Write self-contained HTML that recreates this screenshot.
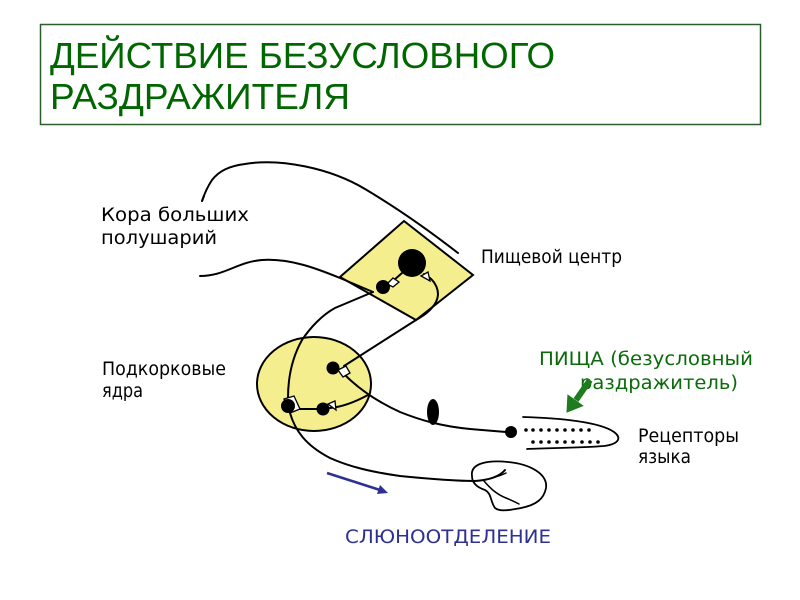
<!DOCTYPE html>
<html><head><meta charset="utf-8"><style>
html,body{margin:0;padding:0;background:#fff;}
svg{display:block;}
.lbl{font-family:"DejaVu Sans","Liberation Sans",sans-serif;font-size:18.5px;fill:#000;}
.ttl{font-family:"Liberation Sans","DejaVu Sans",sans-serif;font-size:36px;fill:#006600;}
</style></head><body>
<svg width="800" height="600" viewBox="0 0 800 600" xmlns="http://www.w3.org/2000/svg">
<rect x="0" y="0" width="800" height="600" fill="#fff"/>
<!-- title box -->
<rect x="40.5" y="24.5" width="720" height="100" fill="none" stroke="#2a5e2a" stroke-width="1.5"/>
<text class="ttl" x="50" y="68" textLength="505" lengthAdjust="spacingAndGlyphs">ДЕЙСТВИЕ БЕЗУСЛОВНОГО</text>
<text class="ttl" x="50" y="109" textLength="300" lengthAdjust="spacingAndGlyphs">РАЗДРАЖИТЕЛЯ</text>

<!-- shapes -->
<polygon points="404,221 473,275 416,320 340,277" fill="#f4ee8e" stroke="#000" stroke-width="2"/>
<ellipse cx="314" cy="384" rx="57" ry="47" fill="#f4ee8e" stroke="#000" stroke-width="2"/>

<g fill="none" stroke="#000" stroke-width="2" stroke-linecap="round">
  <!-- long top curve -->
  <path d="M202,201 C205,192 208,186 212,180 C219,171 229,166 245,164 C280,158 330,168 365,189 C392,205 422,225 458,253"/>
  <path d="M202,201 L204,196"/>
  <!-- wavy line from left -->
  <path d="M200,276 C225,276 237,262 262,260 C290,258 318,269 340,278 L373,292"/>
  <!-- line from small neuron down to circle -->
  <path d="M373,292 L335,308 C322,315 310,328 302,340 C293,356 288,375 288,398"/>
  <!-- diamond bottom to upper circle neuron -->
  <path d="M416,320 L344,366"/>
  <!-- curve from big neuron -->
  <path d="M424,274 C436,280 441,292 436,302 C431,311 423,316 416,320"/>
  <!-- small to big neuron -->
  <path d="M383,287 L393,281 L402,273"/>
  <!-- afferent line from tongue -->
  <path d="M345,375 C360,390 378,402 400,412 C420,420 440,426 470,429 L506,432"/>
  <!-- lower chain -->
  <path d="M293,409 L318,409"/>
  <path d="M330,408 C342,407 355,402 368,395"/>
  <!-- efferent line to gland -->
  <path d="M290,413 C295,430 305,445 330,458 C350,467 372,472 400,476 C430,479 455,481 475,481 C490,480 500,476 505,470"/>
  <!-- gland -->
  <path d="M472,476 C470,463 488,460 508,462 C530,464 548,474 546,488 C544,499 536,505 521,508 C510,510 500,512 495,508 C490,501 492,494 485,490 C476,487 472,482 472,476 Z" stroke-width="1.8"/>
  <path d="M484,481 C490,488 496,494 506,498 C511,500 515,502 519,504" stroke-width="1.5"/>
  <path d="M485,480 C492,478 500,476 506,473" stroke-width="1.5"/>
  <!-- tongue -->
  <path d="M523,417 C560,418 600,422 614,432 C622,438 619,444 604,446 C580,448 545,448 527,449" stroke-width="1.8"/>
</g>

<!-- junction markers -->
<g fill="#fff" stroke="#000" stroke-width="1.3">
  <polygon points="387,284 393,278 399,282 393,287"/>
  <polygon points="421,276 428,272 430,281"/>
  <polygon points="338,370 346,366 350,373 343,377"/>
  <polygon points="284,399 294,396 300,409 290,413"/>
  <polygon points="328,404 335,401 336,410"/>
</g>

<!-- neurons -->
<g fill="#000">
  <circle cx="412" cy="263" r="14"/>
  <circle cx="383" cy="287" r="7"/>
  <circle cx="333" cy="368" r="6.5"/>
  <circle cx="288" cy="406" r="7"/>
  <circle cx="323" cy="409" r="6.5"/>
  <ellipse cx="433" cy="412" rx="6" ry="13"/>
  <circle cx="511" cy="432" r="6"/>
</g>
<!-- receptor dots -->
<g fill="#000">
  <circle cx="526" cy="430" r="1.8"/><circle cx="533" cy="430" r="1.8"/><circle cx="541" cy="430" r="1.8"/><circle cx="549" cy="430" r="1.8"/><circle cx="557" cy="430" r="1.8"/><circle cx="565" cy="430" r="1.8"/><circle cx="573" cy="430" r="1.8"/><circle cx="581" cy="430" r="1.8"/><circle cx="589" cy="430" r="1.8"/>
  <circle cx="533" cy="442" r="1.8"/><circle cx="541" cy="442" r="1.8"/><circle cx="549" cy="442" r="1.8"/><circle cx="557" cy="442" r="1.8"/><circle cx="565" cy="442" r="1.8"/><circle cx="573" cy="442" r="1.8"/><circle cx="582" cy="442" r="1.8"/><circle cx="590" cy="442" r="1.8"/><circle cx="598" cy="442" r="1.8"/>
</g>

<!-- labels -->
<text class="lbl" x="101" y="221" textLength="148" lengthAdjust="spacingAndGlyphs">Кора больших</text>
<text class="lbl" x="101" y="244" textLength="116" lengthAdjust="spacingAndGlyphs">полушарий</text>
<text class="lbl" x="481" y="263" textLength="141" lengthAdjust="spacingAndGlyphs">Пищевой центр</text>
<text class="lbl" x="102" y="375" textLength="124" lengthAdjust="spacingAndGlyphs">Подкорковые</text>
<text class="lbl" x="102" y="397" textLength="41" lengthAdjust="spacingAndGlyphs">ядра</text>
<text class="lbl" x="539" y="365" textLength="214" lengthAdjust="spacingAndGlyphs" style="fill:#0b6b0b">ПИЩА (безусловный</text>
<text class="lbl" x="580" y="389" textLength="158" lengthAdjust="spacingAndGlyphs" style="fill:#0b6b0b">раздражитель)</text>
<text class="lbl" x="638" y="442" textLength="101" lengthAdjust="spacingAndGlyphs">Рецепторы</text>
<text class="lbl" x="638" y="463" textLength="53" lengthAdjust="spacingAndGlyphs">языка</text>
<text class="lbl" x="345" y="543" textLength="206" lengthAdjust="spacingAndGlyphs" style="fill:#2e3192">СЛЮНООТДЕЛЕНИЕ</text>

<!-- green arrow -->
<line x1="590" y1="380" x2="576" y2="400" stroke="#1e7b1e" stroke-width="6"/>
<polygon points="567,412 582.7,405.8 567.9,395.2" fill="#1e7b1e" stroke="#1e7b1e" stroke-width="1"/>

<!-- blue arrow -->
<line x1="327" y1="473" x2="380" y2="490" stroke="#2e3192" stroke-width="2.5"/>
<polygon points="388,493 377,494 380,485" fill="#2e3192"/>
</svg>
</body></html>
